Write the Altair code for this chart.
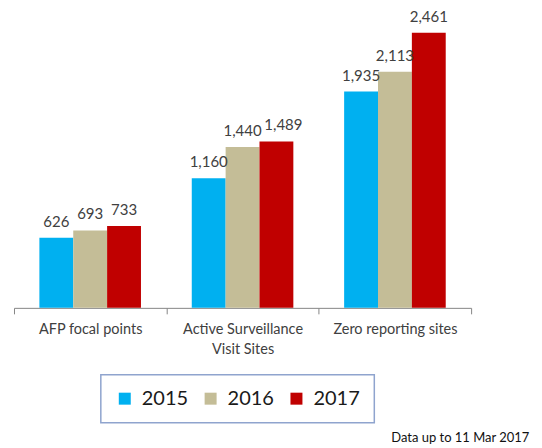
import altair as alt
import pandas as pd

categories = ["AFP focal points", "Active Surveillance Visit Sites", "Zero reporting sites"]
years = ["2015", "2016", "2017"]
values_2015 = [626, 1160, 1935]
values_2016 = [693, 1440, 2113]
values_2017 = [733, 1489, 2461]
colors = ["#00B0F0", "#C4BD97", "#C00000"]
note_text = ["Data  up to 11 Mar 2017"]

rows = []
for yr, vals in zip(years, [values_2015, values_2016, values_2017]):
    for cat, v in zip(categories, vals):
        rows.append({"category": cat, "year": yr, "value": v})
df = pd.DataFrame(rows)

FONT = "Lato"

x_enc = alt.X(
    "category:N",
    sort=categories,
    scale=alt.Scale(paddingInner=0, paddingOuter=0),
    axis=alt.Axis(
        title=None,
        labelAngle=0,
        tickBand="extent",
        tickSize=6,
        tickColor="#868686",
        domainColor="#868686",
        labelColor="#404040",
        labelFont=FONT,
        labelFontSize=14.5,
        labelPadding=9,
        labelLineHeight=20,
        labelExpr="datum.label == 'Active Surveillance Visit Sites' ? ['Active Surveillance', 'Visit Sites'] : datum.label",
    ),
)
xoff = alt.XOffset("year:N", sort=years, scale=alt.Scale(paddingInner=0, paddingOuter=0.75))
y_enc = alt.Y("value:Q", scale=alt.Scale(domain=[0, 2634], nice=False), axis=None)

base = alt.Chart(df)

bars = base.mark_bar().encode(
    x=x_enc,
    xOffset=xoff,
    y=y_enc,
    color=alt.Color(
        "year:N",
        sort=years,
        scale=alt.Scale(domain=years, range=colors),
        legend=alt.Legend(
            title=None,
            orient="none",
            legendX=87,
            legendY=362,
            direction="horizontal",
            strokeColor="#8FA4CE",
            padding=14,
            symbolType="square",
            symbolSize=144,
            symbolStrokeWidth=0,
            labelFont=FONT,
            labelFontSize=20,
            labelColor="#1a1a1a",
            labelOffset=7,
            columnPadding=12,
        ),
    ),
)

label_style = dict(baseline="alphabetic", dy=-11, font=FONT, fontSize=15, color="#404040")
shifted = "datum.category == 'Active Surveillance Visit Sites' && datum.year == '2017'"

labels = base.mark_text(**label_style).encode(
    x=x_enc,
    xOffset=xoff,
    y=y_enc,
    text=alt.Text("value:Q", format=","),
).transform_filter("!(" + shifted + ")")

labels_shifted = base.mark_text(dx=7, **label_style).encode(
    x=x_enc,
    xOffset=xoff,
    y=y_enc,
    text=alt.Text("value:Q", format=","),
).transform_filter(shifted)

note = alt.Chart(pd.DataFrame({"t": note_text})).mark_text(
    align="left", baseline="alphabetic", font=FONT, fontSize=13, color="#111111"
).encode(
    x=alt.value(378),
    y=alt.value(429),
    text="t:N",
)

chart = (
    alt.layer(bars, labels, labels_shifted, note)
    .properties(width=458, height=295, padding={"left": 5, "top": 1, "right": 0, "bottom": 0})
    .configure_view(stroke=None)
    .configure_legend(strokeWidth=1.5)
)

chart.save("out.html", embed_options={"renderer": "svg", "actions": False})
